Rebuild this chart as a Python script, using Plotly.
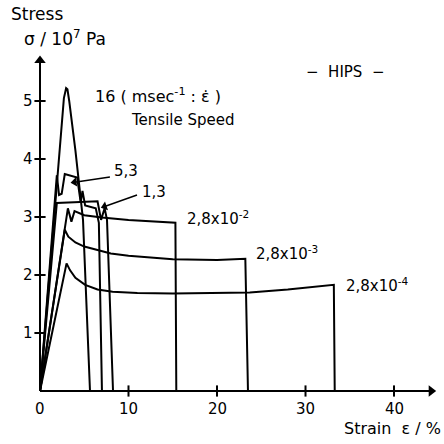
import plotly.graph_objects as go

# ---- data (strain %, stress 10^7 Pa) ----
s16_x = [0, 2.7, 2.95, 3.1, 3.3, 4.0, 4.86, 5.65]
s16_y = [0, 5.05, 5.22, 5.2, 5.0, 4.15, 2.95, 0]

s53_x = [0, 1.9, 2.15, 2.45, 2.8, 4.2, 4.6, 4.8, 5.1, 6.3, 6.65, 7.0]
s53_y = [0, 3.72, 3.38, 3.4, 3.74, 3.68, 3.25, 3.45, 3.2, 3.15, 2.9, 0]

s13_x = [0, 1.9, 6.5, 6.9, 7.3, 7.57, 8.25]
s13_y = [0, 3.24, 3.27, 2.95, 3.15, 2.95, 0]

s2e2_x = [0, 3.15, 3.55, 3.9, 5.0, 7.0, 10.0, 15.0, 15.3, 15.4]
s2e2_y = [0, 3.15, 2.92, 3.1, 3.03, 2.99, 2.95, 2.9, 2.9, 0]

s2e3_x = [0, 2.8, 3.2, 4.0, 5.0, 6.4, 8.0, 10.0, 15.0, 20.0, 23.2, 23.5]
s2e3_y = [0, 2.78, 2.66, 2.56, 2.49, 2.43, 2.37, 2.33, 2.27, 2.26, 2.28, 0]

s2e4_x = [0, 3.0, 3.4, 4.0, 5.1, 6.5, 8.2, 11.0, 15.0, 20.0, 23.7, 28.0, 33.2, 33.3]
s2e4_y = [0, 2.2, 2.08, 1.95, 1.83, 1.75, 1.71, 1.69, 1.68, 1.69, 1.7, 1.75, 1.83, 0]

x_ticks = [0, 10, 20, 30, 40]
y_ticks = [1, 2, 3, 4, 5]

FONT = "DejaVu Sans"
K = "black"

# plot-area geometry (pixels) used to place free text
L, R, T, B = 34, 6, 54, 49
PW, PH = 444 - L - R, 444 - T - B


def px(xp):
    return (xp - L) / PW


def py(yp):
    return (444 - B - yp) / PH


fig = go.Figure()
for xs, ys in [(s16_x, s16_y), (s53_x, s53_y), (s13_x, s13_y),
               (s2e2_x, s2e2_y), (s2e3_x, s2e3_y), (s2e4_x, s2e4_y)]:
    fig.add_trace(go.Scatter(x=xs, y=ys, mode="lines",
                             line=dict(color=K, width=2), cliponaxis=False,
                             hoverinfo="skip"))


def arrow_line(x0, y0, x1, y1, width, size, angle):
    fig.add_trace(go.Scatter(
        x=[x0, x1], y=[y0, y1], mode="lines", cliponaxis=False,
        line=dict(color=K, width=width), hoverinfo="skip"))
    fig.add_trace(go.Scatter(
        x=[x1], y=[y1], mode="markers", cliponaxis=False,
        marker=dict(symbol="triangle-up", angle=angle, size=size, color=K,
                    line=dict(width=0, color=K)),
        hoverinfo="skip"))


# axes with arrowheads
arrow_line(0, 0, 44.2, 0, 2, 10, 90)
arrow_line(0, 0, 0, 5.7, 2, 10, 0)

# tick marks crossing the axes
fig.add_trace(go.Scatter(x=x_ticks[1:], y=[0] * 4, mode="markers",
                         marker=dict(symbol="line-ns", size=8, line=dict(color=K, width=2)),
                         cliponaxis=False, hoverinfo="skip"))
fig.add_trace(go.Scatter(x=[0] * 5, y=y_ticks, mode="markers",
                         marker=dict(symbol="line-ew", size=8, line=dict(color=K, width=2)),
                         cliponaxis=False, hoverinfo="skip"))

# label arrows
arrow_line(7.9, 3.69, 3.9, 3.6, 1.5, 8, 262)
arrow_line(10.96, 3.38, 7.3, 3.18, 1.5, 8, 251)

for v in x_ticks:
    fig.add_annotation(x=v, y=0, xref="x", yref="y", text=str(v), showarrow=False,
                       yshift=-18, font=dict(size=15, family=FONT, color=K))
for v in y_ticks:
    fig.add_annotation(x=0, y=v, xref="x", yref="y", text=str(v), showarrow=False,
                       xshift=-12, font=dict(size=15, family=FONT, color=K))


def txt(x, y, t, size=14, xanchor="left"):
    fig.add_annotation(x=x, y=y, xref="x", yref="y", text=t, showarrow=False,
                       xanchor=xanchor, yanchor="middle",
                       font=dict(size=size, family=FONT, color=K))


txt(6.0, 5.09, "16 ( msec<sup>-1</sup> : ε̇ )", 16)
txt(10.1, 4.67, "Tensile Speed", 15)
txt(34.5, 5.5, "−  HIPS  −", 15, "center")
txt(8.1, 3.8, "5,3", 15)
txt(11.3, 3.43, "1,3", 15)
txt(16.4, 2.98, "2,8x10<sup>-2</sup>", 15)
txt(24.2, 2.38, "2,8x10<sup>-3</sup>", 15)
txt(34.4, 1.82, "2,8x10<sup>-4</sup>", 15)

# axis titles (placed in pixel terms, converted to paper coords)
fig.add_annotation(x=px(9), y=py(14), xref="paper", yref="paper", text="Stress",
                   showarrow=False, xanchor="left", yanchor="middle",
                   font=dict(size=17, family=FONT, color=K))
fig.add_annotation(x=px(22), y=py(38), xref="paper", yref="paper",
                   text="σ / 10<sup>7</sup> Pa", showarrow=False, xanchor="left",
                   yanchor="middle", font=dict(size=17, family=FONT, color=K))
fig.add_annotation(x=px(443), y=py(429), xref="paper", yref="paper",
                   text="Strain  ε / %", showarrow=False, xanchor="right", yanchor="middle",
                   font=dict(size=16, family=FONT, color=K))

fig.update_layout(
    width=444, height=444,
    margin=dict(l=L, r=R, t=T, b=B),
    paper_bgcolor="white", plot_bgcolor="white",
    showlegend=False,
    xaxis=dict(range=[-0.678, 44.97], visible=False, fixedrange=True),
    yaxis=dict(range=[-0.069, 5.81], visible=False, fixedrange=True),
)

fig.write_html("out.html")
